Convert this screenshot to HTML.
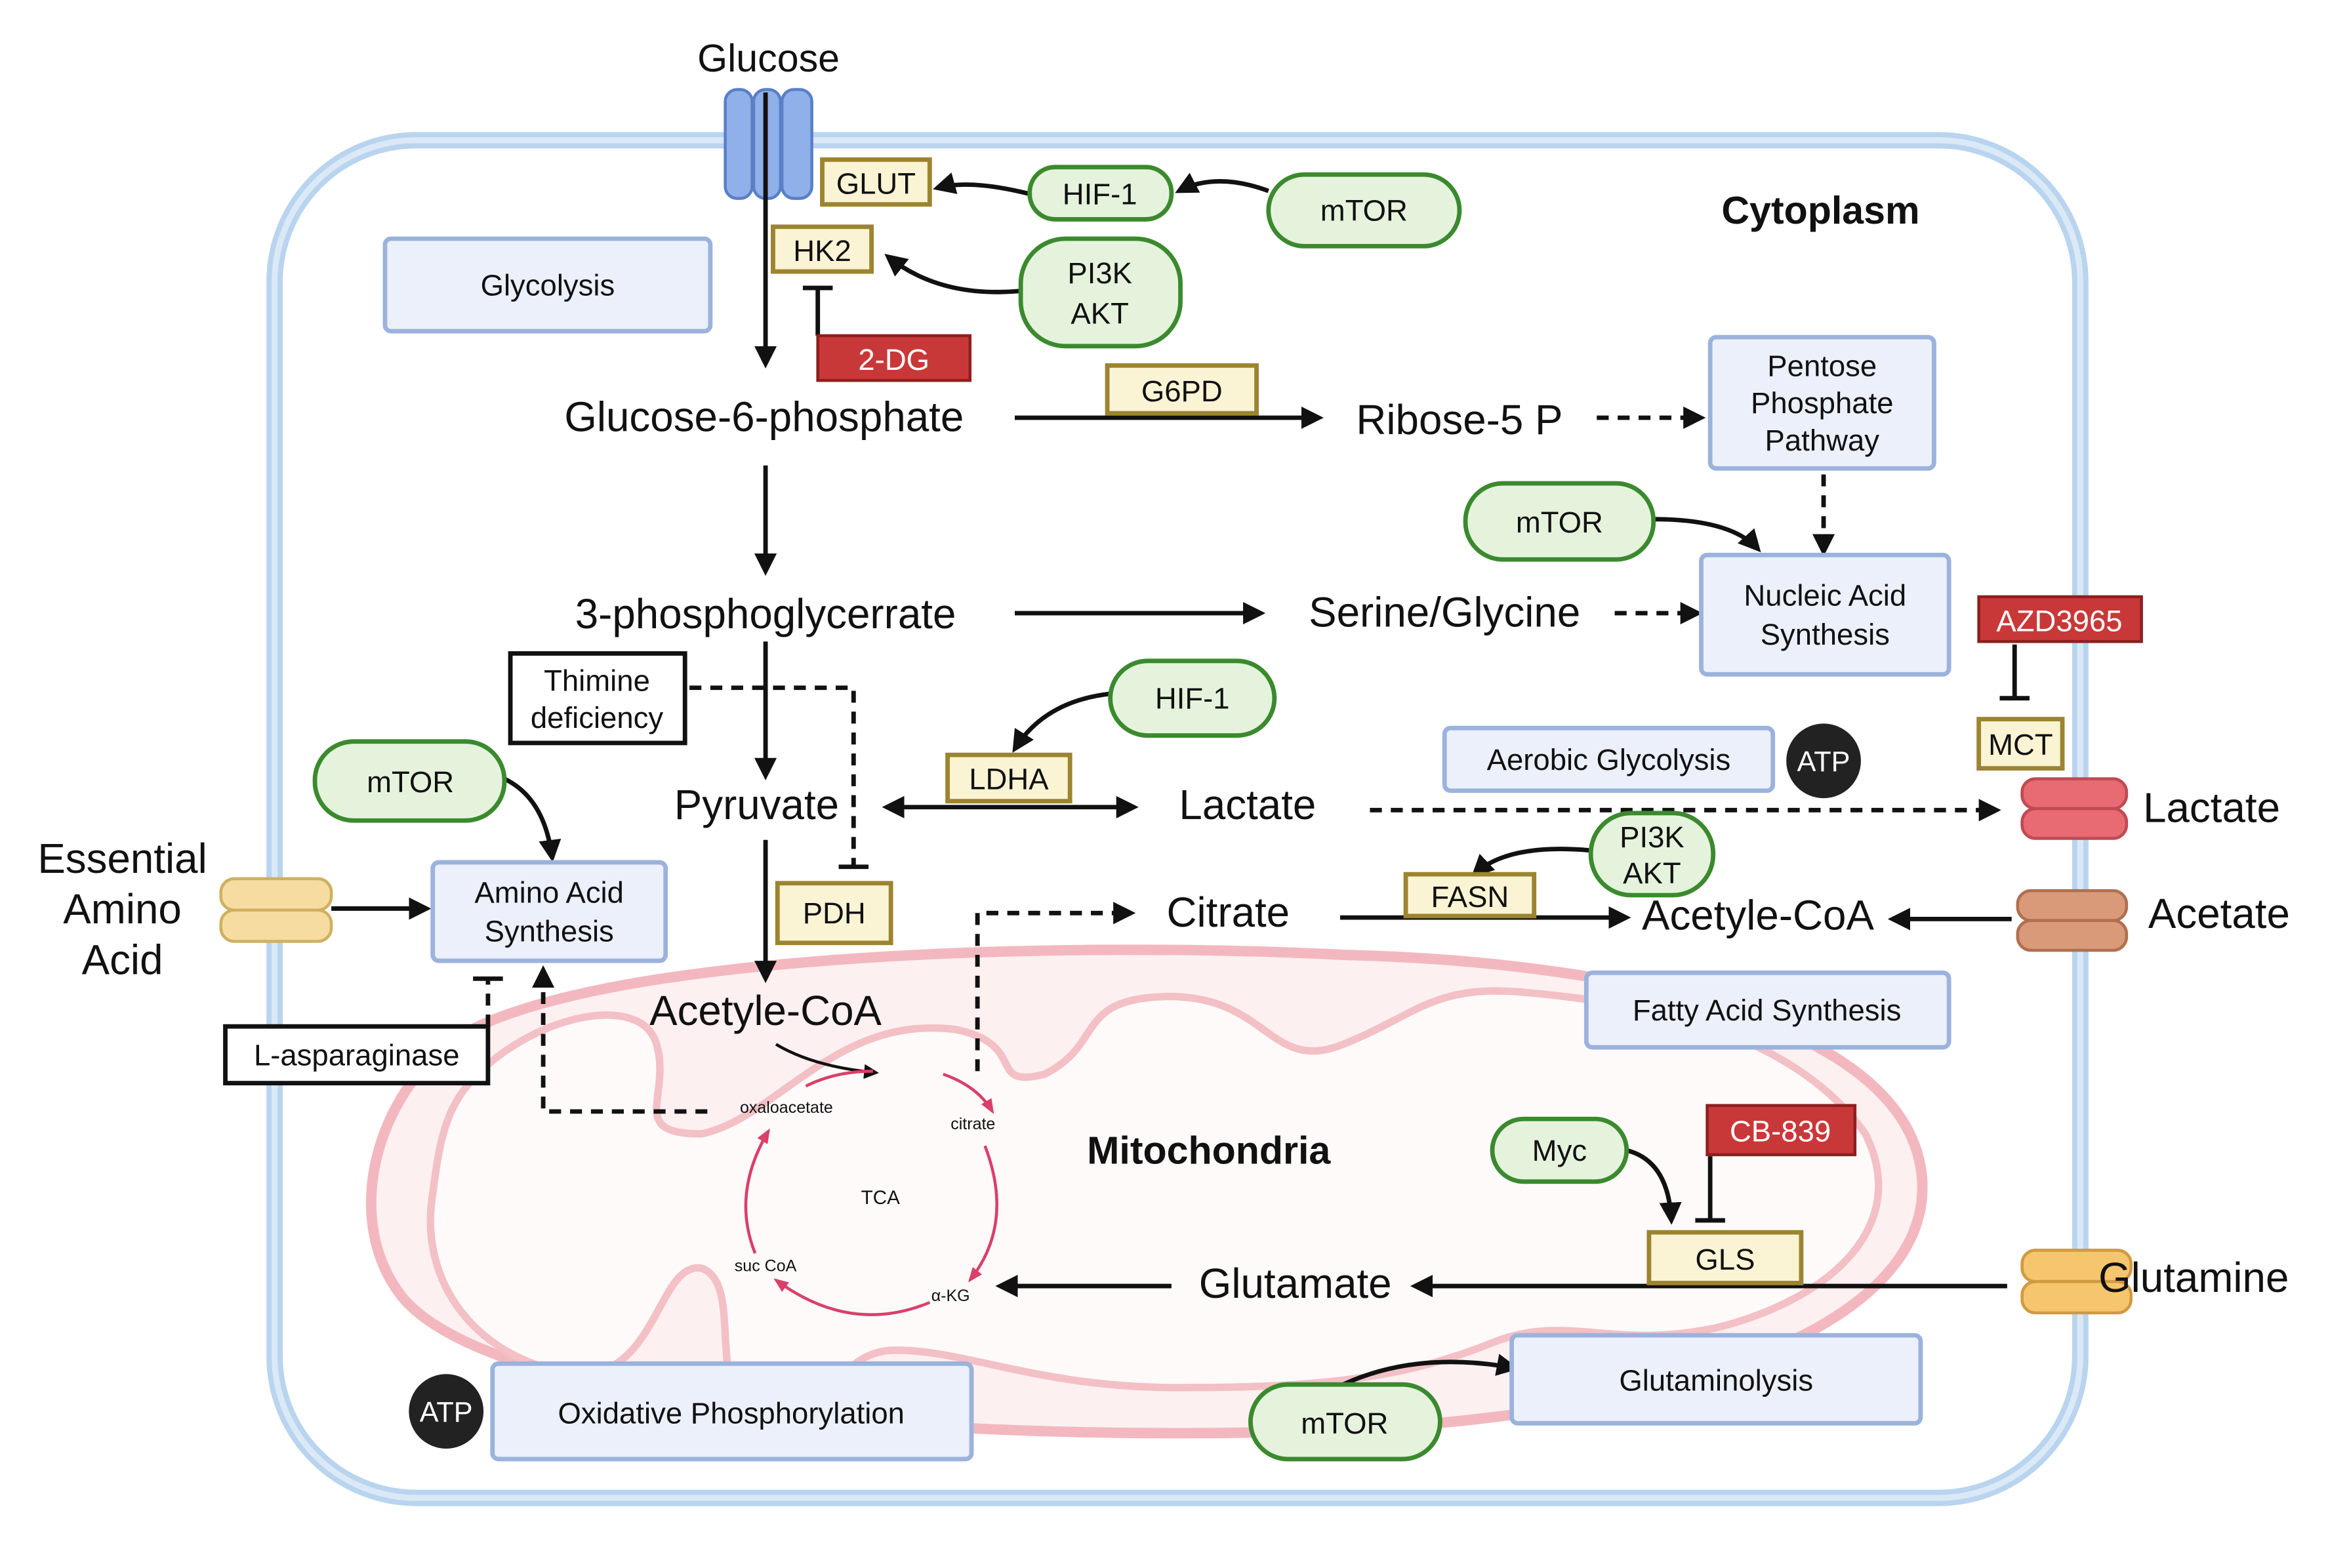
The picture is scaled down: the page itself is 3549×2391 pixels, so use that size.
<!DOCTYPE html>
<html><head><meta charset="utf-8"><style>
html,body{margin:0;padding:0;background:#fff;}
svg{display:block;}
text{font-family:"Liberation Sans",sans-serif;fill:#111;}
.g{fill:#e5f3dd;stroke:#3b8a2e;stroke-width:3;}
.y{fill:#fbf4d4;stroke:#9c8430;stroke-width:3;}
.r{fill:#c93838;stroke:#8d1f1f;stroke-width:2;}
.b{fill:#ebf0fa;stroke:#9bb3dc;stroke-width:3;}
.k{fill:#fff;stroke:#111;stroke-width:3;}
.a{stroke:#111;stroke-width:3;fill:none;}
.d{stroke:#111;stroke-width:3;fill:none;stroke-dasharray:8 6;}
.p{stroke:#d9406a;stroke-width:2;fill:none;}
</style></head><body>
<svg width="3549" height="2391" viewBox="0 0 1560 1051" preserveAspectRatio="none" xmlns="http://www.w3.org/2000/svg">
<defs>
<marker id="ah" viewBox="0 0 10 10" refX="8" refY="5" markerWidth="5" markerHeight="5" orient="auto-start-reverse"><path d="M0,0 L10,5 L0,10 z" fill="#111"/></marker>
<marker id="ph" viewBox="0 0 10 10" refX="8" refY="5" markerWidth="5" markerHeight="5" orient="auto"><path d="M0,1 L10,5 L0,9 z" fill="#d9406a"/></marker>
</defs>
<rect width="1560" height="1051" fill="#fff"/>
<rect x="184" y="94" width="1210" height="910" rx="95" fill="#fff" stroke="#b9d4ef" stroke-width="11"/>
<rect x="184" y="94" width="1210" height="910" rx="95" fill="none" stroke="#dbe9f7" stroke-width="4"/>
<path d="M300,700 C380,640 700,630 900,640 C1100,645 1280,690 1288,790 C1295,890 1120,955 850,960 C600,965 330,940 270,870 C230,820 250,740 300,700 z" fill="#fdf0f1" stroke="#f3b8bf" stroke-width="7"/>
<path d="M320,720 C360,680 430,665 440,700 C450,735 420,760 470,760 C520,750 560,680 640,690 C690,700 660,730 700,720 C740,700 720,670 780,668 C850,666 850,720 900,700 C950,680 960,660 1020,665 C1100,672 1200,690 1250,760 C1280,820 1230,870 1150,890 C1080,905 1050,880 1000,900 C950,920 900,930 800,930 C700,932 650,905 600,905 C560,905 560,950 510,945 C470,940 500,860 470,850 C440,845 440,930 380,920 C320,910 280,860 290,800 C295,760 300,740 320,720 z" fill="#fffafa" stroke="#f3c0c6" stroke-width="5"/>
<rect x="486" y="60" width="18" height="73" rx="8" fill="#8fb0e8" stroke="#5a7fc8" stroke-width="2"/>
<rect x="505" y="60" width="18" height="73" rx="8" fill="#8fb0e8" stroke="#5a7fc8" stroke-width="2"/>
<rect x="524" y="60" width="20" height="73" rx="8" fill="#8fb0e8" stroke="#5a7fc8" stroke-width="2"/>
<rect x="1355" y="522" width="70" height="20" rx="9" fill="#e86a72" stroke="#c04a52" stroke-width="2"/>
<rect x="1355" y="542" width="70" height="20" rx="9" fill="#e86a72" stroke="#c04a52" stroke-width="2"/>
<rect x="1352" y="597" width="73" height="20" rx="9" fill="#d99a7a" stroke="#b07050" stroke-width="2"/>
<rect x="1352" y="617" width="73" height="20" rx="9" fill="#d99a7a" stroke="#b07050" stroke-width="2"/>
<rect x="1355" y="838" width="73" height="21" rx="9" fill="#f6c66e" stroke="#d09a40" stroke-width="2"/>
<rect x="1355" y="859" width="73" height="21" rx="9" fill="#f6c66e" stroke="#d09a40" stroke-width="2"/>
<rect x="148" y="589" width="74" height="21" rx="9" fill="#f6dca0" stroke="#d0b060" stroke-width="2"/>
<rect x="148" y="610" width="74" height="21" rx="9" fill="#f6dca0" stroke="#d0b060" stroke-width="2"/>
<line x1="513" y1="62" x2="513" y2="244" class="a" marker-end="url(#ah)"/>
<line x1="513" y1="312" x2="513" y2="383" class="a" marker-end="url(#ah)"/>
<line x1="513" y1="430" x2="513" y2="520" class="a" marker-end="url(#ah)"/>
<line x1="513" y1="563" x2="513" y2="656" class="a" marker-end="url(#ah)"/>
<line x1="680" y1="280" x2="884" y2="280" class="a" marker-end="url(#ah)"/>
<line x1="680" y1="411" x2="845" y2="411" class="a" marker-end="url(#ah)"/>
<line x1="594" y1="541" x2="760" y2="541" class="a" marker-start="url(#ah)" marker-end="url(#ah)"/>
<line x1="898" y1="615" x2="1090" y2="615" class="a" marker-end="url(#ah)"/>
<line x1="1348" y1="616" x2="1268" y2="616" class="a" marker-end="url(#ah)"/>
<line x1="1345" y1="862" x2="948" y2="862" class="a" marker-end="url(#ah)"/>
<line x1="785" y1="862" x2="670" y2="862" class="a" marker-end="url(#ah)"/>
<line x1="222" y1="609" x2="286" y2="609" class="a" marker-end="url(#ah)"/>
<path d="M690,130 Q650,120 628,126" class="a" marker-end="url(#ah)"/>
<path d="M850,128 Q815,115 790,128" class="a" marker-end="url(#ah)"/>
<path d="M684,195 Q630,200 595,172" class="a" marker-end="url(#ah)"/>
<path d="M1108,348 Q1160,348 1178,368" class="a" marker-end="url(#ah)"/>
<path d="M744,465 Q700,470 680,502" class="a" marker-end="url(#ah)"/>
<path d="M1066,570 Q1010,565 988,586" class="a" marker-end="url(#ah)"/>
<path d="M338,522 Q365,535 370,575" class="a" marker-end="url(#ah)"/>
<path d="M1090,771 Q1118,778 1120,818" class="a" marker-end="url(#ah)"/>
<path d="M900,928 Q950,905 1015,917" class="a" marker-end="url(#ah)"/>
<path d="M520,700 Q545,715 587,719" stroke="#111" stroke-width="2" fill="none" marker-end="url(#ah)"/>
<line x1="1070" y1="280" x2="1140" y2="280" class="d" marker-end="url(#ah)"/>
<line x1="1222" y1="318" x2="1222" y2="370" class="d" marker-end="url(#ah)"/>
<line x1="1082" y1="411" x2="1138" y2="411" class="d" marker-end="url(#ah)"/>
<line x1="918" y1="543" x2="1338" y2="543" class="d" marker-end="url(#ah)"/>
<polyline points="462,461 572,461 572,580" class="d"/>
<line x1="562" y1="581" x2="582" y2="581" stroke="#111" stroke-width="3"/>
<polyline points="655,718 655,612 758,612" class="d" marker-end="url(#ah)"/>
<polyline points="474,745 364,745 364,650" class="d" marker-end="url(#ah)"/>
<line x1="327" y1="688" x2="327" y2="657" class="d"/>
<line x1="317" y1="656" x2="337" y2="656" stroke="#111" stroke-width="3"/>
<polyline points="548,225 548,193" class="a"/><line x1="538" y1="193" x2="558" y2="193" stroke="#111" stroke-width="3"/>
<line x1="1350" y1="432" x2="1350" y2="467" class="a"/><line x1="1340" y1="468" x2="1360" y2="468" stroke="#111" stroke-width="3"/>
<line x1="1146" y1="775" x2="1146" y2="817" class="a"/><line x1="1136" y1="818" x2="1156" y2="818" stroke="#111" stroke-width="3"/>
<path d="M632,720 Q655,728 665,745" class="p" marker-end="url(#ph)"/>
<path d="M585,718 Q560,718 540,728" class="p"/>
<path d="M660,768 Q680,820 650,858" class="p" marker-end="url(#ph)"/>
<path d="M623,873 Q570,895 520,858" class="p" marker-end="url(#ph)"/>
<path d="M506,840 Q490,800 515,758" class="p" marker-end="url(#ph)"/>
<text x="527" y="746" font-size="11" text-anchor="middle" fill="#333">oxaloacetate</text>
<text x="652" y="757" font-size="11" text-anchor="middle">citrate</text>
<text x="637" y="872" font-size="11" text-anchor="middle">α-KG</text>
<text x="513" y="852" font-size="11" text-anchor="middle">suc CoA</text>
<text x="590" y="807" font-size="13" text-anchor="middle">TCA</text>
<rect x="551" y="107" width="72" height="30" class="y"/><text x="587" y="130" font-size="20" text-anchor="middle">GLUT</text>
<rect x="518" y="152" width="66" height="30" class="y"/><text x="551" y="175" font-size="20" text-anchor="middle">HK2</text>
<rect x="548" y="225" width="102" height="30" class="r"/><text x="599" y="248" font-size="20" text-anchor="middle" style="fill:#fff">2-DG</text>
<rect x="742" y="245" width="100" height="32" class="y"/><text x="792" y="269" font-size="20" text-anchor="middle">G6PD</text>
<rect x="1326" y="400" width="109" height="30" class="r"/><text x="1380" y="423" font-size="20" text-anchor="middle" style="fill:#fff">AZD3965</text>
<rect x="1326" y="482" width="56" height="33" class="y"/><text x="1354" y="506" font-size="20" text-anchor="middle">MCT</text>
<rect x="635" y="506" width="82" height="31" class="y"/><text x="676" y="529" font-size="20" text-anchor="middle">LDHA</text>
<rect x="942" y="586" width="86" height="28" class="y"/><text x="985" y="608" font-size="20" text-anchor="middle">FASN</text>
<rect x="521" y="592" width="76" height="40" class="y"/><text x="559" y="619" font-size="20" text-anchor="middle">PDH</text>
<rect x="1144" y="741" width="99" height="33" class="r"/><text x="1193" y="765" font-size="20" text-anchor="middle" style="fill:#fff">CB-839</text>
<rect x="1105" y="826" width="102" height="34" class="y"/><text x="1156" y="851" font-size="20" text-anchor="middle">GLS</text>
<rect x="342" y="438" width="117" height="60" class="k"/><text x="400" y="463" font-size="20" text-anchor="middle">Thimine</text><text x="400" y="488" font-size="20" text-anchor="middle">deficiency</text>
<rect x="151" y="688" width="176" height="38" class="k"/><text x="239" y="714" font-size="20" text-anchor="middle">L-asparaginase</text>
<rect x="258" y="160" width="218" height="62" rx="4" class="b"/><text x="367" y="198" font-size="20" text-anchor="middle">Glycolysis</text>
<rect x="1146" y="226" width="150" height="88" rx="4" class="b"/><text x="1221" y="252" font-size="20" text-anchor="middle">Pentose</text><text x="1221" y="277" font-size="20" text-anchor="middle">Phosphate</text><text x="1221" y="302" font-size="20" text-anchor="middle">Pathway</text>
<rect x="1140" y="372" width="166" height="80" rx="4" class="b"/><text x="1223" y="406" font-size="20" text-anchor="middle">Nucleic Acid</text><text x="1223" y="432" font-size="20" text-anchor="middle">Synthesis</text>
<rect x="968" y="488" width="220" height="42" rx="4" class="b"/><text x="1078" y="516" font-size="20" text-anchor="middle">Aerobic Glycolysis</text>
<rect x="1063" y="652" width="243" height="50" rx="4" class="b"/><text x="1184" y="684" font-size="20" text-anchor="middle">Fatty Acid Synthesis</text>
<rect x="290" y="578" width="156" height="66" rx="4" class="b"/><text x="368" y="605" font-size="20" text-anchor="middle">Amino Acid</text><text x="368" y="631" font-size="20" text-anchor="middle">Synthesis</text>
<rect x="330" y="914" width="321" height="64" rx="4" class="b"/><text x="490" y="954" font-size="20" text-anchor="middle">Oxidative Phosphorylation</text>
<rect x="1013" y="895" width="274" height="59" rx="4" class="b"/><text x="1150" y="932" font-size="20" text-anchor="middle">Glutaminolysis</text>
<rect x="690" y="112" width="95" height="35" rx="17" class="g"/><text x="737" y="137" font-size="20" text-anchor="middle">HIF-1</text>
<rect x="850" y="117" width="128" height="48" rx="24" class="g"/><text x="914" y="148" font-size="20" text-anchor="middle">mTOR</text>
<rect x="684" y="160" width="107" height="72" rx="30" class="g"/><text x="737" y="190" font-size="20" text-anchor="middle">PI3K</text><text x="737" y="217" font-size="20" text-anchor="middle">AKT</text>
<rect x="982" y="324" width="126" height="51" rx="25" class="g"/><text x="1045" y="357" font-size="20" text-anchor="middle">mTOR</text>
<rect x="744" y="443" width="110" height="50" rx="25" class="g"/><text x="799" y="475" font-size="20" text-anchor="middle">HIF-1</text>
<rect x="1066" y="545" width="82" height="55" rx="27" class="g"/><text x="1107" y="568" font-size="20" text-anchor="middle">PI3K</text><text x="1107" y="592" font-size="20" text-anchor="middle">AKT</text>
<rect x="211" y="497" width="127" height="53" rx="26" class="g"/><text x="275" y="531" font-size="20" text-anchor="middle">mTOR</text>
<rect x="1000" y="750" width="90" height="42" rx="21" class="g"/><text x="1045" y="778" font-size="20" text-anchor="middle">Myc</text>
<rect x="838" y="928" width="127" height="50" rx="25" class="g"/><text x="901" y="961" font-size="20" text-anchor="middle">mTOR</text>
<circle cx="1222" cy="510" r="25" fill="#222"/><text x="1222" y="517" font-size="19" text-anchor="middle" style="fill:#fff">ATP</text>
<circle cx="299" cy="946" r="25" fill="#222"/><text x="299" y="953" font-size="19" text-anchor="middle" style="fill:#fff">ATP</text>
<text x="515" y="48" font-size="26" text-anchor="middle">Glucose</text>
<text x="1220" y="150" font-size="26" font-weight="bold" text-anchor="middle">Cytoplasm</text>
<text x="512" y="289" font-size="28" text-anchor="middle">Glucose-6-phosphate</text>
<text x="978" y="291" font-size="28" text-anchor="middle">Ribose-5 P</text>
<text x="513" y="421" font-size="28" text-anchor="middle">3-phosphoglycerrate</text>
<text x="968" y="420" font-size="28" text-anchor="middle">Serine/Glycine</text>
<text x="507" y="549" font-size="28" text-anchor="middle">Pyruvate</text>
<text x="836" y="549" font-size="28" text-anchor="middle">Lactate</text>
<text x="1482" y="551" font-size="28" text-anchor="middle">Lactate</text>
<text x="823" y="621" font-size="28" text-anchor="middle">Citrate</text>
<text x="1178" y="623" font-size="28" text-anchor="middle">Acetyle-CoA</text>
<text x="1487" y="622" font-size="28" text-anchor="middle">Acetate</text>
<text x="513" y="687" font-size="28" text-anchor="middle">Acetyle-CoA</text>
<text x="82" y="585" font-size="28" text-anchor="middle">Essential</text>
<text x="82" y="619" font-size="28" text-anchor="middle">Amino</text>
<text x="82" y="653" font-size="28" text-anchor="middle">Acid</text>
<text x="810" y="780" font-size="26" font-weight="bold" text-anchor="middle">Mitochondria</text>
<text x="868" y="870" font-size="28" text-anchor="middle">Glutamate</text>
<text x="1470" y="866" font-size="28" text-anchor="middle">Glutamine</text>
</svg>
</body></html>
